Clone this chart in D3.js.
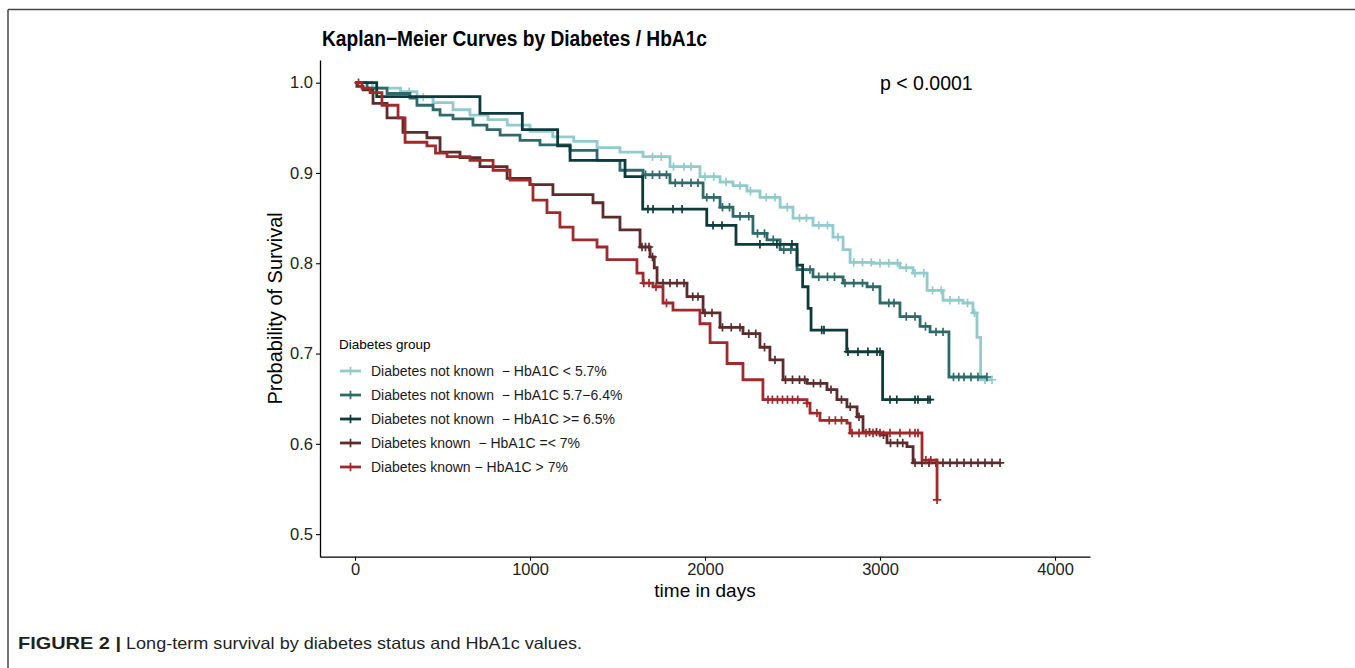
<!DOCTYPE html>
<html><head><meta charset="utf-8">
<script src="https://cdn.jsdelivr.net/npm/d3@7"></script>
<style>
body{margin:0;background:#fff}
svg{display:block}
text{font-family:"Liberation Sans",Arial,Helvetica,sans-serif}
</style>
</head><body>
<svg id="chart" width="1355" height="668"></svg>
<script>
// ---------------- DATA ----------------
const groupLabels = [
  "Diabetes not known  \u2212 HbA1C < 5.7%",
  "Diabetes not known  \u2212 HbA1C 5.7\u22126.4%",
  "Diabetes not known  \u2212 HbA1C >= 6.5%",
  "Diabetes known  \u2212 HbA1C =< 7%",
  "Diabetes known \u2212 HbA1C > 7%"
];
const groupColors = ["#93cbcd", "#2e6a6a", "#0f3a3b", "#5e2b2c", "#a0292b"];

// Kaplan-Meier steps (event times in days, survival after step)
const timesA = [0,100,260,354,446,560,657,760,870,1000,1130,1250,1383,1514,1646,1800,1971,2086,2160,2240,2314,2429,2503,2617,2731,2789,2829,2960,3114,3189,3269,3360,3474,3531,3554,3575,3640];
const survA  = [1,0.994,0.990,0.984,0.978,0.970,0.964,0.959,0.953,0.946,0.940,0.935,0.928,0.923,0.918,0.907,0.896,0.890,0.886,0.880,0.873,0.862,0.850,0.842,0.829,0.815,0.801,0.800,0.795,0.789,0.770,0.759,0.756,0.745,0.718,0.671,0.671];
const censorA = [310,390,1700,1750,1820,1880,1920,2000,2050,2120,2200,2260,2350,2400,2470,2540,2580,2650,2700,2760,2850,2900,2950,3000,3050,3100,3150,3200,3250,3300,3350,3400,3450,3500,3540,3600,3640];

const timesB = [0,69,183,314,354,446,486,560,674,754,829,943,1057,1229,1383,1514,1646,1800,1989,2086,2160,2274,2354,2429,2526,2617,2789,2926,3000,3114,3229,3286,3394,3611];
const survB  = [1,0.994,0.988,0.983,0.975,0.970,0.964,0.960,0.953,0.948,0.942,0.936,0.931,0.925,0.914,0.903,0.898,0.889,0.873,0.862,0.852,0.833,0.826,0.815,0.793,0.785,0.778,0.774,0.756,0.741,0.730,0.724,0.674,0.674];
const censorB = [1660,1700,1740,1780,1830,1870,1920,1960,2010,2050,2100,2140,2200,2250,2300,2340,2390,2450,2490,2560,2600,2650,2700,2740,2800,2850,2900,2960,3050,3080,3150,3200,3260,3320,3360,3420,3450,3480,3520,3560,3611];

const timesC = [0,124,714,956,1158,1229,1543,1644,2010,2177,2526,2558,2589,2606,2810,3015,3286];
const survC  = [1,0.9845,0.966,0.948,0.930,0.914,0.896,0.860,0.842,0.821,0.798,0.774,0.750,0.726,0.702,0.649,0.649];
const censorC = [1674,1703,1817,1869,2046,2097,2314,2411,2497,2667,2680,2817,2874,2931,2983,3000,3057,3096,3200,3217,3274,3286];

const timesD = [0,11,46,103,183,274,411,486,600,714,869,1000,1131,1360,1417,1514,1629,1686,1710,1726,1897,1989,2086,2217,2314,2371,2446,2583,2697,2754,2811,2869,2903,3000,3040,3154,3189,3686];
const survD  = [1,0.996,0.992,0.977,0.961,0.945,0.939,0.923,0.917,0.907,0.894,0.887,0.876,0.867,0.851,0.837,0.818,0.807,0.795,0.778,0.763,0.745,0.729,0.722,0.707,0.693,0.671,0.667,0.660,0.649,0.641,0.630,0.613,0.610,0.601,0.597,0.579,0.579];
const censorD = [1640,1660,1680,1700,1760,1800,1840,1880,1930,1960,2000,2040,2100,2150,2200,2250,2290,2340,2400,2460,2500,2540,2570,2620,2660,2720,2780,2830,2880,2940,2980,3020,3060,3100,3130,3200,3240,3280,3320,3360,3400,3440,3480,3520,3560,3600,3640,3686];

const timesE = [0,40,86,154,246,286,411,460,526,657,789,886,1000,1017,1097,1171,1246,1383,1440,1611,1646,1703,1760,1817,1971,2029,2126,2217,2331,2583,2600,2657,2811,2829,3240,3326];
const survE  = [1,0.994,0.989,0.975,0.961,0.934,0.930,0.922,0.918,0.914,0.903,0.892,0.887,0.870,0.856,0.840,0.826,0.818,0.804,0.789,0.778,0.774,0.756,0.748,0.733,0.712,0.689,0.671,0.649,0.645,0.634,0.626,0.623,0.612,0.582,0.538];
const censorE = [20,1650,1680,1720,1780,2360,2385,2414,2443,2471,2500,2530,2583,2640,2710,2745,2780,2840,2880,2920,2960,3000,3057,3114,3170,3200,3217,3262,3290,3326];

const xTicks = [0,1000,2000,3000,4000];
const yTicks = [0.5,0.6,0.7,0.8,0.9,1.0];

const titleText = "Kaplan\u2212Meier Curves by Diabetes / HbA1c";
const pText = "p < 0.0001";
const xTitle = "time in days";
const yTitle = "Probability of Survival";
const legendTitle = "Diabetes group";
const captionBold = "FIGURE 2 |";
const captionText = "Long-term survival by diabetes status and HbA1c values.";

// ---------------- CHART ----------------
const svg = d3.select("#chart");
const pLeft = 320, pRight = 1090, pTop = 60.1, pBottom = 556.7;
const x = d3.scaleLinear().domain([-200, 4200]).range([pLeft, pRight]);
const y = d3.scaleLinear().domain([0.475, 1.025]).range([pBottom, pTop]);

// figure frame
svg.append("line").attr("x1",8).attr("x2",1355).attr("y1",9.5).attr("y2",9.5).attr("stroke","#444").attr("stroke-width",1.5);
svg.append("line").attr("x1",8).attr("x2",8).attr("y1",9.5).attr("y2",668).attr("stroke","#444").attr("stroke-width",1.5);

const series = [
  {t:timesA, s:survA, c:censorA},
  {t:timesB, s:survB, c:censorB},
  {t:timesC, s:survC, c:censorC},
  {t:timesD, s:survD, c:censorD},
  {t:timesE, s:survE, c:censorE}
];

const line = d3.line().x(d=>x(d[0])).y(d=>y(d[1])).curve(d3.curveStepAfter);
function survAt(sr, t){
  let v = sr.s[0];
  for(let i=0;i<sr.t.length;i++){ if(sr.t[i] <= t) v = sr.s[i]; }
  return v;
}
const cs = 4.2;
series.forEach((sr,i)=>{
  const g = svg.append("g");
  const pts = sr.t.map((t,j)=>[t, sr.s[j]]);
  g.append("path").attr("d", line(pts)).attr("fill","none")
    .attr("stroke", groupColors[i]).attr("stroke-width",2.8).attr("stroke-linejoin","miter");
  sr.c.forEach(ct=>{
    const cx = x(ct), cy = y(survAt(sr, ct));
    g.append("path").attr("d",`M${cx-cs},${cy}H${cx+cs}M${cx},${cy-cs}V${cy+cs}`)
      .attr("stroke", groupColors[i]).attr("stroke-width",1.7).attr("fill","none");
  });
});

// axes
const xAxis = svg.append("g").attr("transform",`translate(0,${pBottom})`)
  .call(d3.axisBottom(x).tickValues(xTicks).tickFormat(d3.format("d")).tickSize(4).tickSizeOuter(0).tickPadding(3));
const yAxis = svg.append("g").attr("transform",`translate(${pLeft},0)`)
  .call(d3.axisLeft(y).tickValues(yTicks).tickFormat(d3.format(".1f")).tickSize(4).tickSizeOuter(0).tickPadding(3));
[xAxis,yAxis].forEach(a=>{
  a.select(".domain").attr("stroke","#000").attr("stroke-width",1.3);
  a.selectAll(".tick line").attr("stroke","#000").attr("stroke-width",1.1);
  a.selectAll(".tick text").attr("fill","#222").style("font-size","16.5px").style("font-family",'"Liberation Sans",Arial,sans-serif');
});

// titles
svg.append("text").attr("x",322).attr("y",46).text(titleText)
  .attr("textLength",385).attr("lengthAdjust","spacingAndGlyphs")
  .style("font-size","21.5px").style("font-weight","bold").attr("fill","#000");
svg.append("text").attr("x",880).attr("y",90).text(pText)
  .style("font-size","19.5px").attr("fill","#000");
svg.append("text").attr("x",(pLeft+pRight)/2).attr("y",597).attr("text-anchor","middle").text(xTitle)
  .style("font-size","19px").attr("fill","#000");
svg.append("text").attr("transform",`translate(282,${(pTop+pBottom)/2}) rotate(-90)`).attr("text-anchor","middle").text(yTitle)
  .style("font-size","20px").attr("fill","#000");

// legend
svg.append("text").attr("x",339).attr("y",349).text(legendTitle).style("font-size","13.5px").attr("fill","#000");
const legY = [371,395,419,443,467];
groupLabels.forEach((lab,i)=>{
  const ly = legY[i];
  svg.append("line").attr("x1",340).attr("x2",361).attr("y1",ly).attr("y2",ly)
    .attr("stroke",groupColors[i]).attr("stroke-width",2.8);
  svg.append("path").attr("d",`M${350.5-cs},${ly}H${350.5+cs}M350.5,${ly-cs}V${ly+cs}`)
    .attr("stroke",groupColors[i]).attr("stroke-width",1.7);
  svg.append("text").attr("x",371).attr("y",ly+5).text(lab).style("font-size","14px")
    .style("white-space","pre").attr("fill","#1a1a1a");
});

// caption
svg.append("text").attr("x",18).attr("y",649).text(captionBold)
  .attr("textLength",103).attr("lengthAdjust","spacingAndGlyphs")
  .style("font-size","16.5px").style("font-weight","bold").attr("fill","#231f20");
svg.append("text").attr("x",126).attr("y",649).text(captionText)
  .attr("textLength",456).attr("lengthAdjust","spacingAndGlyphs")
  .style("font-size","16.5px").attr("fill","#231f20");
</script>
</body></html>
